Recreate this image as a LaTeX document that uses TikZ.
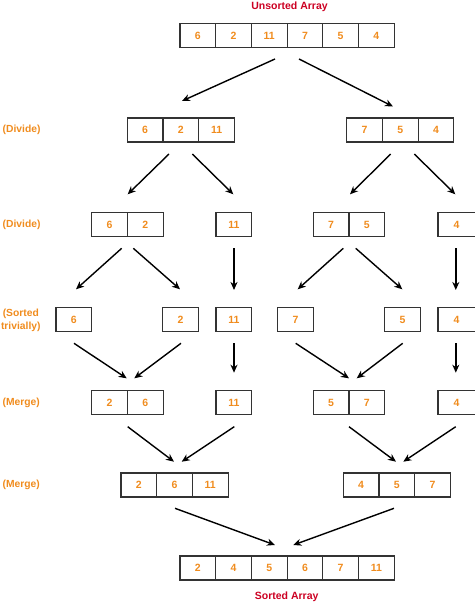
\documentclass[tikz,border=0pt]{standalone}
\usepackage{fontspec}
\setmainfont{Liberation Sans}
\usetikzlibrary{arrows.meta,positioning}
\definecolor{numor}{HTML}{F08C1E}
\definecolor{lblred}{HTML}{CC0022}
\definecolor{boxline}{HTML}{333333}
\begin{document}
\begin{tikzpicture}[x=1pt,y=-1pt,
  cell/.style={draw=boxline,line width=1.2pt,minimum width=35.7pt,minimum height=24pt,
    inner sep=0pt,outer sep=0pt,text=numor,font=\bfseries\fontsize{10.5}{12}\selectfont},
  edgecell/.style={cell,minimum width=37.4pt},
  lbl/.style={text=numor,font=\bfseries\fontsize{10.3}{13}\selectfont,inner sep=0pt},
  ttl/.style={text=lblred,font=\bfseries\fontsize{10.5}{12}\selectfont,inner sep=0pt},
  arr/.style={-{Stealth[length=8pt,width=7pt,inset=2.5pt]},line width=1.4pt,draw=black}]
\useasboundingbox (0,0) rectangle (474,604);

% titles and row labels
\node[ttl,anchor=base] (tUns) at (289.5,10) {Unsorted Array};
\node[ttl,anchor=base] (tSor) at (286.7,599) {Sorted Array};
\node[lbl,anchor=west] (lDiv1) at (2.5,130) {(Divide)};
\node[lbl,anchor=west] (lDiv2) at (2.5,224.7) {(Divide)};
\node[lbl,align=center] (lTriv) at (20.8,320) {(Sorted\\trivially)};
\node[lbl,anchor=west] (lMer1) at (2.5,402.5) {(Merge)};
\node[lbl,anchor=west] (lMer2) at (2.5,485) {(Merge)};

% row 1: unsorted array
\node[cell] (u1) at (197.85,35.7) {6};
\node[cell,right=0pt of u1] (u2) {2};
\node[cell,right=0pt of u2] (u3) {11};
\node[cell,right=0pt of u3] (u4) {7};
\node[cell,right=0pt of u4] (u5) {5};
\node[cell,right=0pt of u5] (u6) {4};

% row 2
\node[cell] (a1) at (145.15,130) {6};
\node[cell,right=0pt of a1] (a2) {2};
\node[cell,right=0pt of a2] (a3) {11};
\node[cell] (b1) at (364.55,130) {7};
\node[cell,right=0pt of b1] (b2) {5};
\node[cell,right=0pt of b2] (b3) {4};

% row 3
\node[cell] (c1) at (109.55,224.7) {6};
\node[cell,right=0pt of c1] (c2) {2};
\node[cell] (c3) at (233.85,224.7) {11};
\node[cell] (d1) at (331.15,224.7) {7};
\node[cell,right=0pt of d1] (d2) {5};
\node[edgecell] (d3) at (456.6,224.7) {4};

% row 4
\node[cell] (e1) at (73.85,319.7) {6};
\node[cell] (e2) at (180.55,319.7) {2};
\node[cell] (e3) at (233.85,319.7) {11};
\node[cell] (f1) at (295.55,319.7) {7};
\node[cell] (f2) at (402.55,319.7) {5};
\node[edgecell] (f3) at (456.6,319.7) {4};

% row 5
\node[cell] (g1) at (109.55,402.5) {2};
\node[cell,right=0pt of g1] (g2) {6};
\node[cell] (g3) at (233.85,402.5) {11};
\node[cell] (h1) at (331.15,402.5) {5};
\node[cell,right=0pt of h1] (h2) {7};
\node[edgecell] (h3) at (456.6,402.5) {4};

% row 6
\node[cell] (i1) at (138.85,485) {2};
\node[cell,right=0pt of i1] (i2) {6};
\node[cell,right=0pt of i2] (i3) {11};
\node[cell] (j1) at (361.15,485) {4};
\node[cell,right=0pt of j1] (j2) {5};
\node[cell,right=0pt of j2] (j3) {7};

% row 7: sorted array
\node[cell] (s1) at (197.85,568) {2};
\node[cell,right=0pt of s1] (s2) {4};
\node[cell,right=0pt of s2] (s3) {5};
\node[cell,right=0pt of s3] (s4) {6};
\node[cell,right=0pt of s4] (s5) {7};
\node[cell,right=0pt of s5] (s6) {11};

% arrow end points
\coordinate (k1s) at (275,59);    \coordinate (k1e) at (182,101);
\coordinate (k2s) at (299,59);    \coordinate (k2e) at (393,106.5);

\coordinate (m1s) at (169,154);   \coordinate (m1e) at (127.7,194.3);
\coordinate (m2s) at (192.3,154); \coordinate (m2e) at (233.3,194.3);
\coordinate (m3s) at (390.7,154); \coordinate (m3e) at (350,194.3);
\coordinate (m4s) at (414.3,154); \coordinate (m4e) at (455.3,194.3);

\coordinate (n1s) at (121.7,248.3); \coordinate (n1e) at (76,289.3);
\coordinate (n2s) at (133.3,248.3); \coordinate (n2e) at (180,289.3);
\coordinate (n3s) at (234,248.3);   \coordinate (n3e) at (234,290);
\coordinate (n4s) at (343.3,248.3); \coordinate (n4e) at (297.7,289.3);
\coordinate (n5s) at (355.7,248.3); \coordinate (n5e) at (402.3,289.3);
\coordinate (n6s) at (455.8,248.3); \coordinate (n6e) at (455.8,290);

\coordinate (o1s) at (74,343.3);    \coordinate (o1e) at (126.7,378.3);
\coordinate (o2s) at (181,343.3);   \coordinate (o2e) at (134.3,378.3);
\coordinate (o3s) at (234,343.3);   \coordinate (o3e) at (234,372.7);
\coordinate (o4s) at (295.7,343.3); \coordinate (o4e) at (349,378.3);
\coordinate (o5s) at (402.7,343.3); \coordinate (o5e) at (356.7,378.3);
\coordinate (o6s) at (455.8,343.3); \coordinate (o6e) at (455.8,372.7);

\coordinate (q1s) at (127.7,426.7); \coordinate (q1e) at (174,461.7);
\coordinate (q2s) at (234.3,426.7); \coordinate (q2e) at (181.7,461.7);
\coordinate (q3s) at (349,426.7);   \coordinate (q3e) at (396,461.7);
\coordinate (q4s) at (455.7,426.7); \coordinate (q4e) at (403.3,461.7);

\coordinate (r1s) at (175,508.3);   \coordinate (r1e) at (275,545);
\coordinate (r2s) at (394,508.3);   \coordinate (r2e) at (293.3,545);

% arrows
\foreach \p in {k1,k2,m1,m2,m3,m4,n1,n2,n3,n4,n5,n6,o1,o2,o3,o4,o5,o6,q1,q2,q3,q4,r1,r2}
  \draw[arr] (\p s) -- (\p e);
\end{tikzpicture}
\end{document}
